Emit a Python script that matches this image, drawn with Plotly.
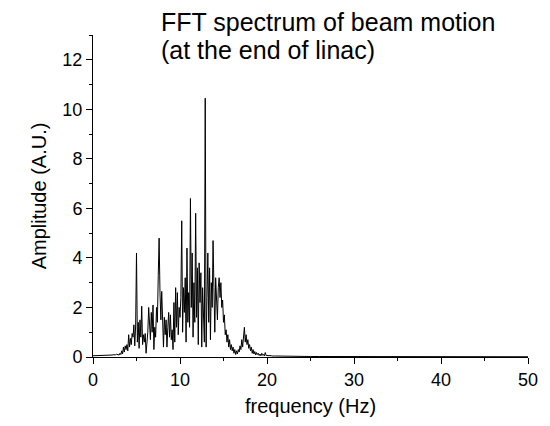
import plotly.graph_objects as go

# Frequency grid (Hz): 0.1 Hz steps up to 21 Hz, then coarse tail
freq_fine = [round(i * 0.1, 1) for i in range(0, 211)]
freq_tail = [22, 23, 24, 25, 26, 27, 28, 30, 35, 40, 45, 50]

amp_fine = [
    # 0.0-0.9
    0.05, 0.05, 0.06, 0.05, 0.06, 0.06, 0.05, 0.06, 0.06, 0.05,
    # 1.0-1.9
    0.06, 0.05, 0.06, 0.06, 0.07, 0.06, 0.06, 0.07, 0.06, 0.07,
    # 2.0-2.9
    0.08, 0.07, 0.08, 0.09, 0.08, 0.10, 0.09, 0.11, 0.10, 0.12,
    # 3.0-3.9
    0.08, 0.15, 0.10, 0.25, 0.12, 0.40, 0.20, 0.45, 0.30, 0.50,
    # 4.0-4.9
    0.25, 0.90, 0.40, 0.75, 0.50, 0.95, 0.80, 1.30, 0.45, 1.25,
    # 5.0-5.9
    4.20, 0.60, 1.40, 0.35, 1.50, 0.80, 2.05, 0.50, 0.90, 0.60,
    # 6.0-6.9
    0.95, 0.15, 0.60, 1.00, 2.00, 1.20, 0.70, 1.80, 1.00, 2.10,
    # 7.0-7.9
    0.30, 1.20, 0.80, 2.00, 1.40, 3.30, 4.80, 2.60, 1.50, 2.65,
    # 8.0-8.9
    1.20, 0.40, 1.60, 0.90, 1.50, 0.40, 1.20, 1.80, 0.80, 1.70,
    # 9.0-9.9
    0.70, 1.10, 0.30, 2.20, 0.60, 2.80, 1.20, 2.60, 0.90, 2.00,
    # 10.0-10.9
    1.60, 2.40, 5.50, 1.00, 2.80, 1.80, 3.20, 0.60, 4.40, 1.40,
    # 11.0-11.9
    2.60, 1.20, 6.40, 2.00, 4.20, 0.80, 3.00, 1.40, 5.80, 1.60,
    # 12.0-12.9
    3.60, 0.50, 3.80, 2.20, 3.40, 0.40, 2.80, 1.80, 0.60, 10.45,
    # 13.0-13.9
    0.40, 2.40, 4.20, 1.40, 3.60, 0.70, 3.00, 2.00, 4.70, 2.80,
    # 14.0-14.9
    1.00, 3.20, 2.40, 1.50, 2.80, 3.20, 2.40, 3.00, 2.00, 2.30,
    # 15.0-15.9
    1.40, 1.70, 0.90, 1.10, 0.60, 0.90, 0.40, 0.70, 0.30, 0.50,
    # 16.0-16.9
    0.25, 0.40, 0.15, 0.30, 0.10, 0.25, 0.12, 0.30, 0.20, 0.45,
    # 17.0-17.9
    0.30, 0.70, 0.40, 0.90, 1.20, 0.60, 0.90, 0.50, 0.70, 0.35,
    # 18.0-18.9
    0.50, 0.25, 0.40, 0.15, 0.30, 0.12, 0.22, 0.08, 0.18, 0.10,
    # 19.0-19.9
    0.15, 0.06, 0.12, 0.05, 0.15, 0.07, 0.10, 0.04, 0.18, 0.06,
    # 20.0-20.9
    0.06, 0.08, 0.05, 0.06, 0.05, 0.05, 0.04, 0.05, 0.04, 0.04,
    # 21.0
    0.04,
]
amp_tail = [0.03, 0.03, 0.03, 0.02, 0.02, 0.02, 0.02, 0.01, 0.01, 0.01, 0.01, 0.01]

freq = freq_fine + freq_tail
amp = amp_fine + amp_tail

x_ticks = [0, 10, 20, 30, 40, 50]
y_ticks = [0, 2, 4, 6, 8, 10, 12]
title_lines = ["FFT spectrum of beam motion", "(at the end of linac)"]

FONT = "Liberation Sans, Arial, sans-serif"

fig = go.Figure()
fig.add_trace(go.Scatter(
    x=freq, y=amp, mode="lines",
    line=dict(color="black", width=1),
    showlegend=False, hoverinfo="skip",
))

fig.update_layout(
    width=542, height=418,
    margin=dict(l=85, r=17, t=27, b=63),
    paper_bgcolor="white", plot_bgcolor="white",
    font=dict(family=FONT, color="black", size=18),
    xaxis=dict(
        range=[0, 50], tickvals=x_ticks, ticks="outside", ticklen=6, tickwidth=1,
        tickcolor="black", showline=True, linecolor="black", linewidth=1,
        showgrid=False, zeroline=False, tickfont=dict(size=18),
        minor=dict(dtick=5, ticks="outside", ticklen=3, tickcolor="black", showgrid=False),
        title=dict(text="frequency (Hz)", font=dict(size=20), standoff=10),
    ),
    yaxis=dict(
        range=[0, 13], tickvals=y_ticks, ticks="outside", ticklen=6, tickwidth=1,
        tickcolor="black", showline=True, linecolor="black", linewidth=1,
        showgrid=False, zeroline=False, tickfont=dict(size=18),
        minor=dict(dtick=1, ticks="outside", ticklen=3, tickcolor="black", showgrid=False),
        title=dict(text="Amplitude (A.U.)", font=dict(size=20), standoff=10),
    ),
    annotations=[
        dict(text=title_lines[0], xref="paper", yref="paper", x=0.152, y=1.040,
             xanchor="left", yanchor="middle", showarrow=False,
             font=dict(size=25, family=FONT, color="black")),
        dict(text=title_lines[1], xref="paper", yref="paper", x=0.152, y=0.954,
             xanchor="left", yanchor="middle", showarrow=False,
             font=dict(size=25, family=FONT, color="black")),
    ],
)

fig.write_html("out.html")
